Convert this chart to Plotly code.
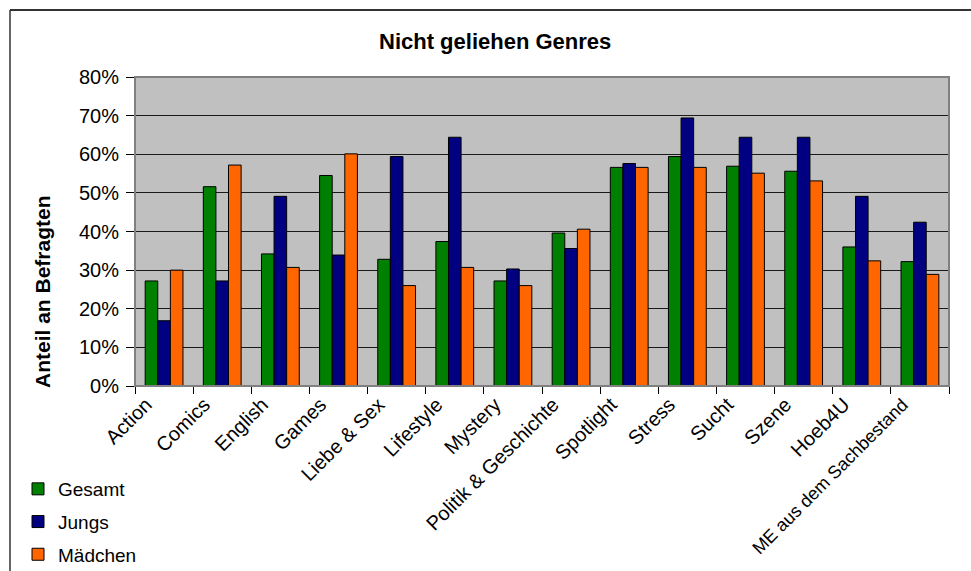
import plotly.graph_objects as go

# Genres and share of respondents per group
genres = ["Action", "Comics", "English", "Games", "Liebe & Sex", "Lifestyle", "Mystery",
          "Politik & Geschichte", "Spotlight", "Stress", "Sucht", "Szene", "Hoeb4U",
          "ME aus dem Sachbestand"]
gesamt = [0.272, 0.516, 0.342, 0.545, 0.328, 0.374, 0.272, 0.396, 0.566, 0.594, 0.569, 0.556, 0.360, 0.322]
jungs = [0.169, 0.272, 0.491, 0.339, 0.594, 0.644, 0.303, 0.356, 0.576, 0.694, 0.644, 0.644, 0.491, 0.424]
maedchen = [0.300, 0.572, 0.307, 0.601, 0.260, 0.307, 0.260, 0.406, 0.566, 0.566, 0.551, 0.531, 0.324, 0.289]

series = [("Gesamt", gesamt, "#008000"), ("Jungs", jungs, "#000080"), ("Mädchen", maedchen, "#FF6600")]

W, H = 971, 571
L, R, T, B = 135, 22, 77, 185
pw, ph = W - L - R, H - T - B


def px_x(x):
    return (x - L) / pw


def px_y(y):
    return (H - B - y) / ph


FONT = "Liberation Sans, Arial, sans-serif"

# the longest category name is set a touch smaller so it stays on the page
tick_text = [g if len(g) < 21 else f"<span style='font-size:18px'>{g}</span>" for g in genres]

fig = go.Figure()
for i, (name, vals, col) in enumerate(series):
    fig.add_trace(go.Bar(
        x=genres, y=vals, name=name, legendgroup=name,
        marker=dict(color=col, line=dict(color="#000000", width=1)),
    ))

fig.update_layout(
    width=W, height=H,
    margin=dict(l=L, r=R, t=T, b=B, autoexpand=False),
    paper_bgcolor="white",
    plot_bgcolor="#C0C0C0",
    barmode="group", bargap=0.35, bargroupgap=0,
    font=dict(family=FONT, size=19, color="#000000"),
    showlegend=True,
    legend=dict(x=px_x(18), y=px_y(470), xanchor="left", yanchor="top",
                bgcolor="rgba(0,0,0,0)", font=dict(size=19, family=FONT),
                tracegroupgap=5, itemwidth=30),
    xaxis=dict(
        tickangle=-45, tickson="boundaries", ticks="outside", ticklen=7,
        tickcolor="#000000", showline=True, linecolor="#000000", linewidth=1,
        showgrid=False, automargin=False, tickfont=dict(size=20),
        tickmode="array", tickvals=genres, ticktext=tick_text,
        ticklabelshift=-18, ticklabelstandoff=-2,
    ),
    yaxis=dict(
        range=[0, 0.8], dtick=0.1, tickformat=".0%", ticks="outside", ticklen=8,
        tickcolor="#000000", showline=True, linecolor="#000000", linewidth=1,
        showgrid=True, gridcolor="#1a1a1a", gridwidth=1, zeroline=False,
        automargin=False, tickfont=dict(size=20), ticklabelstandoff=3,
    ),
    annotations=[
        dict(text="<b>Nicht geliehen Genres</b>", x=px_x(495), y=px_y(42),
             xref="paper", yref="paper", xanchor="center", yanchor="middle",
             showarrow=False, font=dict(size=22, family=FONT)),
        dict(text="<b>Anteil an Befragten</b>", x=px_x(42), y=px_y(292),
             xref="paper", yref="paper", xanchor="center", yanchor="middle",
             showarrow=False, textangle=-90, font=dict(size=21, family=FONT)),
    ],
    shapes=[
        # plot area frame (top/right in grey)
        dict(type="rect", xref="paper", yref="paper", x0=0, y0=0, x1=1, y1=1,
             line=dict(color="#808080", width=2), layer="above"),
        # outer chart frame
        dict(type="line", xref="paper", yref="paper", x0=px_x(10), x1=px_x(980),
             y0=px_y(10), y1=px_y(10), line=dict(color="#333333", width=2)),
        dict(type="line", xref="paper", yref="paper", x0=px_x(10), x1=px_x(10),
             y0=px_y(10), y1=px_y(590), line=dict(color="#333333", width=1.5)),
    ],
)

fig.write_html("out.html")
